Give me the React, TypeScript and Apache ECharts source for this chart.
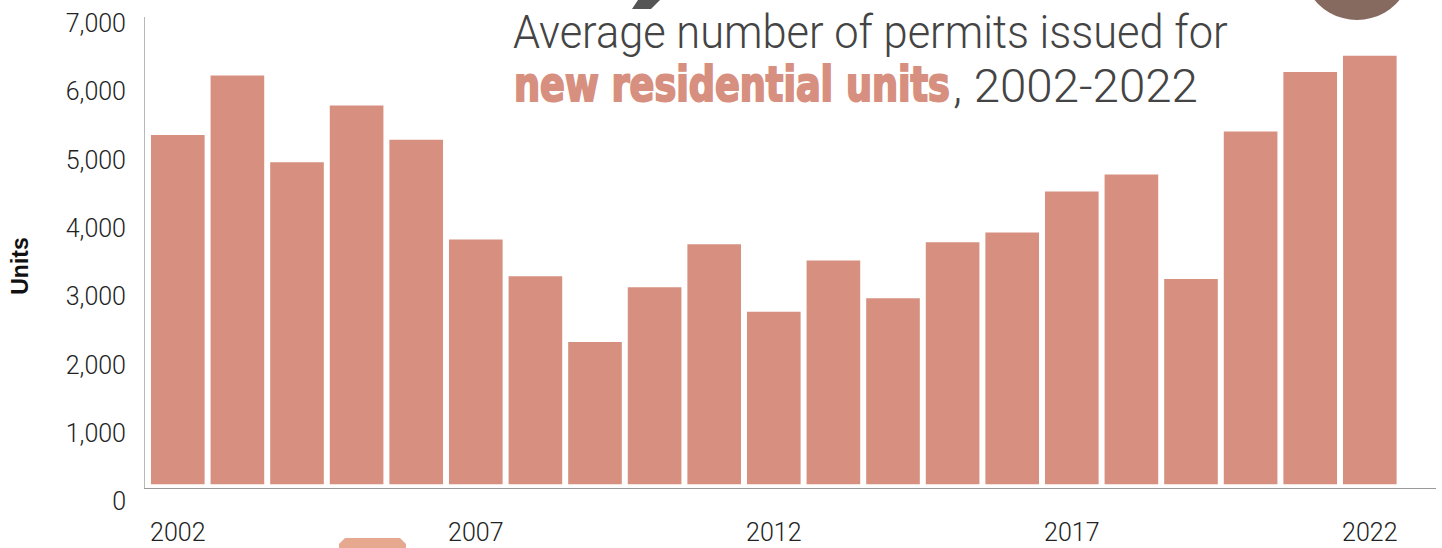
import React, { useEffect, useRef } from "react";
import * as echarts from "echarts";

// ---- data ----
const years = [
  "2002", "2003", "2004", "2005", "2006", "2007", "2008", "2009", "2010", "2011",
  "2012", "2013", "2014", "2015", "2016", "2017", "2018", "2019", "2020", "2021", "2022",
];
const permits = [
  5370, 6240, 4970, 5800, 5300, 3840, 3300, 2340, 3140, 3770,
  2780, 3530, 2980, 3800, 3940, 4540, 4790, 3260, 5420, 6290, 6530,
];
const yMin = 0;
const yMax = 7000;
const yStep = 1000;
const axisName = "Units";
const titleLine1 = "Average number of permits issued for";
const titleHighlight = "new residential units";
const titleRest = ", 2002-2022";

// ---- styles ----
const LIGHT_FONT = "Roboto";
const BAR_COLOR = "#d79080";
const TITLE_GRAY = "#444444";

function measure(text: string, font: string): number {
  const ctx = document.createElement("canvas").getContext("2d");
  if (!ctx) return 0;
  ctx.font = font;
  return ctx.measureText(text).width;
}

export default function App() {
  const ref = useRef<HTMLDivElement>(null);

  useEffect(() => {
    document.body.style.margin = "0";
    if (!ref.current) return;
    const chart = echarts.init(ref.current, undefined, { renderer: "svg" });

    const t1Size = 46;
    const t1Font = `300 ${t1Size}px ${LIGHT_FONT}`;
    const t1W = measure(titleLine1, t1Font) || 715;
    const t1Scale = 715 / t1W;

    const hlSize = 48;
    const hlFamily = "DejaVu Sans Condensed";
    const hlFont = `bold ${hlSize}px "${hlFamily}"`;
    const hlW = measure(titleHighlight, hlFont) || 436;
    const hlScale = 436 / hlW;

    const restW = measure(titleRest, t1Font) || 245;
    const restScale = 245 / restW;

    const option: any = {
      animation: false,
      grid: [
        { left: 148, right: 42.4, top: 23.6, bottom: 46.3 },
        { left: 148, right: 42.4, top: 23.6, bottom: 63.7 },
      ],
      xAxis: [
        { gridIndex: 0, type: "category", data: years, show: false },
        {
          gridIndex: 1,
          type: "category",
          data: years,
          axisLine: { show: false },
          axisTick: { show: false },
          axisLabel: {
            interval: 4,
            margin: 36,
            fontSize: 25,
            lineHeight: 25,
            fontFamily: LIGHT_FONT,
            fontWeight: 300,
            color: "#222",
          },
        },
      ],
      yAxis: [
        {
          gridIndex: 0,
          type: "value",
          min: yMin,
          max: yMax,
          interval: yStep,
          axisLine: { show: false },
          axisTick: { show: false },
          splitLine: { show: false },
          axisLabel: {
            margin: 22,
            fontSize: 25,
            fontFamily: LIGHT_FONT,
            fontWeight: 300,
            color: "#222",
            formatter: (v: number) => v.toLocaleString("en-US"),
          },
        },
        { gridIndex: 1, type: "value", min: 255, max: yMax, show: false },
      ],
      series: [
        {
          type: "bar",
          xAxisIndex: 1,
          yAxisIndex: 1,
          data: permits,
          barCategoryGap: "10%",
          clip: true,
          itemStyle: { color: BAR_COLOR },
        },
      ],
      graphic: [
        {
          type: "line",
          shape: { x1: 144.5, y1: 17, x2: 144.5, y2: 488 },
          style: { stroke: "#b8b8b8", lineWidth: 1 },
        },
        {
          type: "line",
          shape: { x1: 144, y1: 488.5, x2: 1436, y2: 488.5 },
          style: { stroke: "#9a9a9a", lineWidth: 1.2 },
        },
        {
          type: "circle",
          shape: { cx: 1357, cy: -35, r: 55 },
          style: { fill: "#86695f" },
        },
        {
          type: "polygon",
          shape: { points: [[638, 0], [660, 0], [651, 9], [632, 9]] },
          style: { fill: "#555555" },
        },
        {
          type: "polygon",
          shape: {
            points: [[345, 538], [400, 538], [406, 544], [406, 548], [339, 548], [339, 544]],
          },
          style: { fill: "#e6a88f" },
        },
        {
          type: "text",
          x: 20,
          y: 266,
          rotation: Math.PI / 2,
          style: {
            text: axisName,
            fontSize: 23,
            fontWeight: "bold",
            fontFamily: "Liberation Sans",
            fill: "#111",
            align: "center",
            verticalAlign: "middle",
          },
        },
        {
          type: "text",
          x: 513,
          y: 32.7,
          scaleX: t1Scale,
          style: {
            text: titleLine1,
            fontSize: t1Size,
            fontWeight: 300,
            fontFamily: LIGHT_FONT,
            fill: TITLE_GRAY,
            align: "left",
            verticalAlign: "middle",
          },
        },
        {
          type: "text",
          x: 514,
          y: 84,
          scaleX: hlScale,
          style: {
            text: titleHighlight,
            fontSize: hlSize,
            fontWeight: "bold",
            fontFamily: hlFamily,
            fill: BAR_COLOR,
            stroke: BAR_COLOR,
            lineWidth: 2,
            align: "left",
            verticalAlign: "middle",
          },
        },
        {
          type: "text",
          x: 953,
          y: 86,
          scaleX: restScale,
          style: {
            text: titleRest,
            fontSize: t1Size,
            fontWeight: 300,
            fontFamily: LIGHT_FONT,
            fill: TITLE_GRAY,
            align: "left",
            verticalAlign: "middle",
          },
        },
      ],
    };

    chart.setOption(option);
    return () => chart.dispose();
  }, []);

  return <div ref={ref} style={{ width: 1442, height: 548 }} />;
}
